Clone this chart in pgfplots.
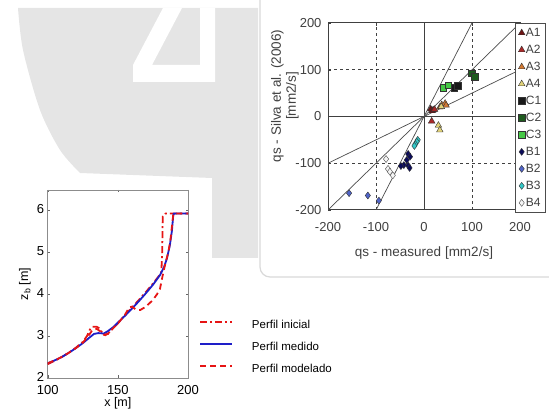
\documentclass[border=0pt]{standalone}
\usepackage{pgfplots}
\pgfplotsset{compat=1.18}
\usepackage{fontspec}
\setmainfont{Liberation Sans}
\definecolor{tA1}{RGB}{110,20,20}
\definecolor{tA2}{RGB}{170,40,40}
\definecolor{tA3}{RGB}{210,120,50}
\definecolor{tA4}{RGB}{225,210,120}
\definecolor{tC1}{RGB}{25,25,25}
\definecolor{tC2}{RGB}{30,90,30}
\definecolor{tC3}{RGB}{70,200,70}
\definecolor{tB1}{RGB}{10,10,90}
\definecolor{tB2}{RGB}{80,100,200}
\definecolor{tB3}{RGB}{50,200,200}
\definecolor{tB4}{RGB}{245,245,245}
\definecolor{lred}{RGB}{230,20,20}
\definecolor{lblue}{RGB}{30,30,200}
\definecolor{wm}{gray}{0.9}
\begin{document}
\begin{tikzpicture}[x=1pt,y=1pt]
\useasboundingbox (0,0) rectangle (549,414);
% background watermark
\fill[wm] (18,406) -- (258,406) -- (258,156) -- (212,156) -- (212,236) -- (80,241)
  -- plot[smooth] coordinates {(80,241) (60,264) (40,304) (23,364) (18,406)} -- cycle;
\fill[white] (163,406) -- (182,406) -- (152,349) -- (200,349) -- (200,406) -- (215,406)
  -- (215,332) -- (133,332) -- (133,349) -- cycle;
% panel box
\draw[black!15, line width=1.2pt, fill=white, rounded corners=10pt] (260,137) rectangle (600,430);

% ---------------- right scatter chart
\begin{axis}[
  at={(328pt,204pt)}, anchor=south west, scale only axis,
  width=192pt, height=187pt,
  xmin=-200, xmax=200, ymin=-200, ymax=200,
  xtick={-200,-100,0,100,200}, ytick={-200,-100,0,100,200},
  axis line style={black!75, line width=1pt},
  tick style={black!75}, major tick length=3pt,
  ticklabel style={font=\fontsize{13}{15}\selectfont, text=black!75},
  /pgf/number format/assume math mode=true,
  xticklabel style={yshift=-9pt},
  yticklabel style={xshift=-3pt},
  xlabel={qs - measured [mm2/s]},
  ylabel={qs - Silva et al. (2006)\\{[mm2/s]}},
  label style={font=\fontsize{13.5}{15}\selectfont, text=black!75},
  xlabel style={at={(axis description cs:0.5,-0.23)}, anchor=center},
  ylabel style={at={(axis description cs:-0.224,0.61)}, anchor=center, align=center},
  legend style={at={(axis description cs:0.974,1)}, anchor=north west,
    draw=black!70, line width=0.8pt, fill=white,
    font=\fontsize{12}{14}\selectfont, text=black!75,
    nodes={inner sep=1pt, text height=9pt, text depth=2pt},
    row sep=4pt, inner sep=3pt},
  legend cell align=left,
]
\addplot[black!75, dashed, line width=0.8pt, forget plot] coordinates {(-100,-200) (-100,200)};
\addplot[black!75, dashed, line width=0.8pt, forget plot] coordinates {(100,-200) (100,200)};
\addplot[black!75, dashed, line width=0.8pt, forget plot] coordinates {(-200,-100) (200,-100)};
\addplot[black!75, dashed, line width=0.8pt, forget plot] coordinates {(-200,100) (200,100)};
\addplot[black!75, line width=1pt, forget plot] coordinates {(0,-200) (0,200)};
\addplot[black!75, line width=1pt, forget plot] coordinates {(-200,0) (200,0)};
\addplot[black!70, line width=0.7pt, forget plot] coordinates {(-100,-200) (100,200)};
\addplot[black!70, line width=0.7pt, forget plot] coordinates {(-200,-200) (200,200)};
\addplot[black!70, line width=0.7pt, forget plot] coordinates {(-200,-100) (200,100)};

\addplot[only marks, mark=triangle*, mark size=3.8pt, mark options={fill=tA1, draw=black!80, line width=0.4pt}]
  coordinates {(14,16) (19,14) (17,12)};
\addlegendentry{A1}
\addplot[only marks, mark=triangle*, mark size=3.8pt, mark options={fill=tA2, draw=black!80, line width=0.4pt}]
  coordinates {(16,-10) (22,15)};
\addlegendentry{A2}
\addplot[only marks, mark=triangle*, mark size=3.8pt, mark options={fill=tA3, draw=black!80, line width=0.4pt}]
  coordinates {(33,20) (37,25) (44,28) (46,24)};
\addlegendentry{A3}
\addplot[only marks, mark=triangle*, mark size=3.8pt, mark options={fill=tA4, draw=black!80, line width=0.4pt}]
  coordinates {(30,-19) (33,-29) (36,21)};
\addlegendentry{A4}
\addplot[only marks, mark=square*, mark size=3.2pt, mark options={fill=tC1, draw=black!80, line width=0.4pt}]
  coordinates {(63,62) (70,66)};
\addlegendentry{C1}
\addplot[only marks, mark=square*, mark size=3.2pt, mark options={fill=tC2, draw=black!80, line width=0.4pt}]
  coordinates {(99,92) (106,85)};
\addlegendentry{C2}
\addplot[only marks, mark=square*, mark size=3.2pt, mark options={fill=tC3, draw=black!80, line width=0.4pt}]
  coordinates {(40,62) (50,67)};
\addlegendentry{C3}
\addplot[only marks, mark=diamond*, mark size=3.5pt, mark options={fill=tB1, draw=black!80, line width=0.4pt}]
  coordinates {(-33,-80) (-29,-86) (-36,-93) (-42,-104) (-48,-106) (-33,-105) (-30,-110)};
\addlegendentry{B1}
\addplot[only marks, mark=diamond*, mark size=3.5pt, mark options={fill=tB2, draw=black!80, line width=0.4pt}]
  coordinates {(-156,-164) (-117,-169) (-94,-180)};
\addlegendentry{B2}
\addplot[only marks, mark=diamond*, mark size=3.5pt, mark options={fill=tB3, draw=black!80, line width=0.4pt}]
  coordinates {(-13,-50) (-15,-54) (-18,-59) (-20,-63)};
\addlegendentry{B3}
\addplot[only marks, mark=diamond*, mark size=3.5pt, mark options={fill=tB4, draw=black!70, line width=0.4pt}]
  coordinates {(-79,-91) (-75,-112) (-71,-118) (-65,-126)};
\addlegendentry{B4}
\end{axis}

% ---------------- left profile chart
\begin{axis}[
  at={(47.7pt,36pt)}, anchor=south west, scale only axis,
  width=140.3pt, height=188pt,
  xmin=100, xmax=200, ymin=2, ymax=6.48,
  xtick={100,150,200}, ytick={2,3,4,5,6},
  axis line style={black!45, line width=0.6pt},
  tick style={black!60}, major tick length=2.5pt,
  ticklabel style={font=\fontsize{13}{15}\selectfont},
  /pgf/number format/assume math mode=true,
  xticklabel style={yshift=-4pt},
  yticklabel style={yshift=1.5pt},
  xlabel={x [m]}, ylabel={z\textsubscript{b} [m]},
  label style={font=\fontsize{12.5}{15}\selectfont},
  xlabel style={at={(axis description cs:0.5,-0.135)}, anchor=center},
  ylabel style={at={(axis description cs:-0.162,0.5)}, anchor=center},
  legend style={at={(axis description cs:1.057,0.325)}, anchor=north west,
    draw=none, fill=none, font=\fontsize{11.5}{13}\selectfont,
    nodes={inner sep=1pt, text height=8.5pt, text depth=2.5pt},
    row sep=9pt,
    /tikz/every odd column/.append style={column sep=18pt}},
  legend image code/.code={\draw[#1] (0pt,3.5pt) -- (32pt,3.5pt);},
  legend cell align=left,
]
\addplot[lred, line width=1.8pt, dash pattern=on 7pt off 3pt on 2pt off 3pt] coordinates {
 (100,2.33) (105,2.41) (110,2.5) (115,2.6) (120,2.72) (125,2.86) (128,3.0) (130,3.15)
 (132,3.22) (135,3.22) (137,3.18) (139,3.07) (141,3.02) (143,3.06) (146,3.17) (150,3.3)
 (155,3.5) (160,3.68) (165,3.86) (170,4.05) (175,4.25) (179,4.42) (181,4.52) (181.6,5.0)
 (182,5.85) (184,5.92) (200,5.92)};
\addlegendentry{Perfil inicial}
\addplot[lblue, line width=1.8pt] coordinates {
 (100,2.35) (105,2.42) (110,2.5) (115,2.6) (120,2.71) (125,2.83) (130,2.97) (133,3.05)
 (136,3.07) (140,3.06) (143,3.12) (147,3.22) (150,3.32) (155,3.48) (160,3.65) (165,3.83)
 (170,4.02) (175,4.22) (180,4.45) (183,4.65) (185,4.85) (187,5.15) (188.5,5.5) (189.5,5.88)
 (190,5.92) (200,5.92)};
\addlegendentry{Perfil medido}
\addplot[lred, line width=1.8pt, dash pattern=on 6pt off 4pt] coordinates {
 (100,2.35) (105,2.42) (110,2.5) (115,2.6) (120,2.71) (125,2.84) (130,3.05) (132,3.15)
 (135,3.17) (138,3.1) (140,3.03) (143,3.05) (147,3.2) (150,3.3) (155,3.5) (158,3.68)
 (160,3.7) (163,3.63) (166,3.62) (170,3.7) (175,3.86) (178,4.0) (180,4.12) (182,4.45)
 (184,4.75) (186,5.0) (187.5,5.3) (188.5,5.6) (189.5,5.9) (190,5.92) (200,5.92)};
\addlegendentry{Perfil modelado}
\end{axis}
\end{tikzpicture}
\end{document}
